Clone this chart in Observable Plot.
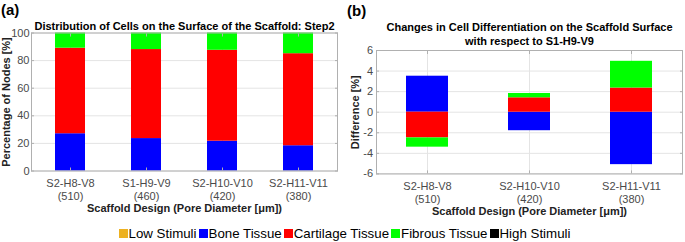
<!DOCTYPE html>
<html>
<head>
<meta charset="utf-8">
<script src="https://cdn.jsdelivr.net/npm/d3@7"></script>
<script src="https://cdn.jsdelivr.net/npm/@observablehq/plot@0.6"></script>
<style>
  html, body { margin: 0; padding: 0; background: #fff; }
  #wrap { position: relative; width: 685px; height: 242px; overflow: hidden; font-family: "Liberation Sans", Arial, Helvetica, sans-serif; }
  .panel { position: absolute; top: 0; }
  .plab { position: absolute; font-weight: bold; font-size: 15px; line-height: 15px; color: #000; }
  #legend { position: absolute; left: 3px; width: 685px; top: 224px; height: 18px; display: flex; justify-content: center; align-items: center; font-size: 13.3px; color: #000; }
  .li { display: inline-flex; align-items: center; margin-right: 2px; }
  .sw { width: 9px; height: 9px; margin-right: 1px; display: inline-block; }
</style>
</head>
<body>
<div id="wrap">
  <div class="panel" id="pa" style="left:0px"></div>
  <div class="panel" id="pb" style="left:340px"></div>
  <div class="plab" style="left:1px; top:2px">(a)</div>
  <div class="plab" style="left:347px; top:3px">(b)</div>
  <div id="legend"></div>
</div>
<script>
// ---- data ----
const tissues = ["Low Stimuli", "Bone Tissue", "Cartilage Tissue", "Fibrous Tissue", "High Stimuli"];
const tissueColors = ["#EDB120", "#0000FF", "#FF0000", "#00FF00", "#000000"];

// Panel (a): distribution of cells [%]
const designsA = ["S2-H8-V8", "S1-H9-V9", "S2-H10-V10", "S2-H11-V11"];
const poreA = [510, 460, 420, 380];
const lowA = [0, 0, 0, 0];
const boneA = [27.0, 23.5, 21.6, 18.3];
const cartA = [62.0, 64.5, 65.9, 66.7];
const fibA = [11.0, 12.0, 12.5, 15.0];
const highA = [0, 0, 0, 0];
const yTicksA = [0, 20, 40, 60, 80, 100];

// Panel (b): difference with respect to S1-H9-V9 [%]
const designsB = ["S2-H8-V8", "S2-H10-V10", "S2-H11-V11"];
const poreB = [510, 420, 380];
const lowB = [0, 0, 0];
const boneB = [3.5, -1.8, -5.1];
const cartB = [-2.5, 1.4, 2.35];
const fibB = [-0.9, 0.42, 2.6];
const highB = [0, 0, 0];
const yTicksB = [-6, -4, -2, 0, 2, 4, 6];

const titleA = "Distribution of Cells on the Surface of the Scaffold: Step2";
const titleB = "Changes in Cell Differentiation on the Scaffold Surface\nwith respect to S1-H9-V9";
const xLabel = "Scaffold Design (Pore Diameter [\u03BCm])";
const yLabelA = "Percentage of Nodes [%]";
const yLabelB = "Difference [%]";

function rows(designs, series) {
  const out = [];
  series.forEach((vals, k) => {
    designs.forEach((d, i) => out.push({design: d, tissue: tissues[k], value: vals[i]}));
  });
  return out;
}

const FONT = "Liberation Sans, Arial, Helvetica, sans-serif";
const GRID = "#e4e4e4";
const FRAME = "#b0b0b0";
const TICKTXT = "#4a4a4a";

function panel({designs, pore, series, yDomain, yTicks, width, height, mL, mR, mT, mB, pInner, title, titleDy, yLabel, yLabelDx, padY}) {
  const data = rows(designs, series);
  const labels = designs.map((d, i) => ({design: d, text: d + "\n(" + pore[i] + ")"}));
  const blank = () => "";
  return Plot.plot({
    width, height,
    marginLeft: mL, marginRight: mR, marginTop: mT, marginBottom: mB,
    style: {fontFamily: FONT, fontSize: "11px", background: "transparent", overflow: "visible"},
    x: {domain: designs, paddingInner: pInner, paddingOuter: pInner / 2, axis: null},
    y: {domain: yDomain, axis: null},
    color: {domain: tissues, range: tissueColors},
    marks: [
      Plot.gridY(yTicks, {stroke: GRID, strokeOpacity: 1}),
      Plot.gridX(designs, {stroke: GRID, strokeOpacity: 1}),
      Plot.barY(data, {x: "design", y: "value", fill: "tissue", order: tissues}),
      Plot.frame({stroke: FRAME}),
      Plot.axisY({ticks: yTicks, tickSize: -3, tickFormat: blank, stroke: FRAME, label: null}),
      Plot.axisY({anchor: "right", ticks: yTicks, tickSize: -3, tickFormat: blank, stroke: FRAME, label: null}),
      Plot.axisX({ticks: designs, tickSize: -3, tickFormat: blank, stroke: FRAME, label: null}),
      Plot.axisX({anchor: "top", ticks: designs, tickSize: -3, tickFormat: blank, stroke: FRAME, label: null}),
      Plot.axisY({ticks: yTicks, tickSize: 0, tickPadding: padY, fontSize: 11, fill: TICKTXT, tickFormat: d => String(d), label: null}),
      Plot.text(labels, {x: "design", text: "text", frameAnchor: "bottom", dy: 6.8, lineAnchor: "top", lineHeight: 1.18, fontSize: 11, fill: TICKTXT}),
      Plot.text([xLabel], {text: d => d, frameAnchor: "bottom", dy: 41, textAnchor: "middle", lineAnchor: "bottom", fontWeight: "bold", fontSize: 11, fill: "#222"}),
      Plot.text([title], {text: d => d, frameAnchor: "top", dy: titleDy, textAnchor: "middle", lineAnchor: "bottom", lineHeight: 1.27, fontWeight: "bold", fontSize: 11, fill: "#000"}),
      Plot.text([yLabel], {text: d => d, frameAnchor: "left", dx: yLabelDx, rotate: -90, textAnchor: "middle", lineAnchor: "middle", fontWeight: "bold", fontSize: 11, fill: "#222"})
    ]
  });
}

const plotA = panel({
  designs: designsA, pore: poreA, series: [lowA, boneA, cartA, fibA, highA],
  yDomain: [0, 100], yTicks: yTicksA,
  width: 345, height: 221, mL: 31, mR: 8, mT: 32.5, mB: 50.5, pInner: 0.608,
  title: titleA, titleDy: -3.5, yLabel: yLabelA, yLabelDx: -25, padY: 2
});
document.getElementById("pa").appendChild(plotA);

const plotB = panel({
  designs: designsB, pore: poreB, series: [lowB, boneB, cartB, fibB, highB],
  yDomain: [-6, 6], yTicks: yTicksB,
  width: 345, height: 221, mL: 36, mR: 3, mT: 50, mB: 47.6, pInner: 0.59,
  title: titleB, titleDy: -6, yLabel: yLabelB, yLabelDx: -21, padY: 3.5
});
document.getElementById("pb").appendChild(plotB);

// legend
const leg = document.getElementById("legend");
tissues.forEach((t, i) => {
  const item = document.createElement("span");
  item.className = "li";
  const sw = document.createElement("span");
  sw.className = "sw";
  sw.style.background = tissueColors[i];
  const tx = document.createElement("span");
  tx.textContent = t;
  item.appendChild(sw);
  item.appendChild(tx);
  leg.appendChild(item);
});
</script>
</body>
</html>
